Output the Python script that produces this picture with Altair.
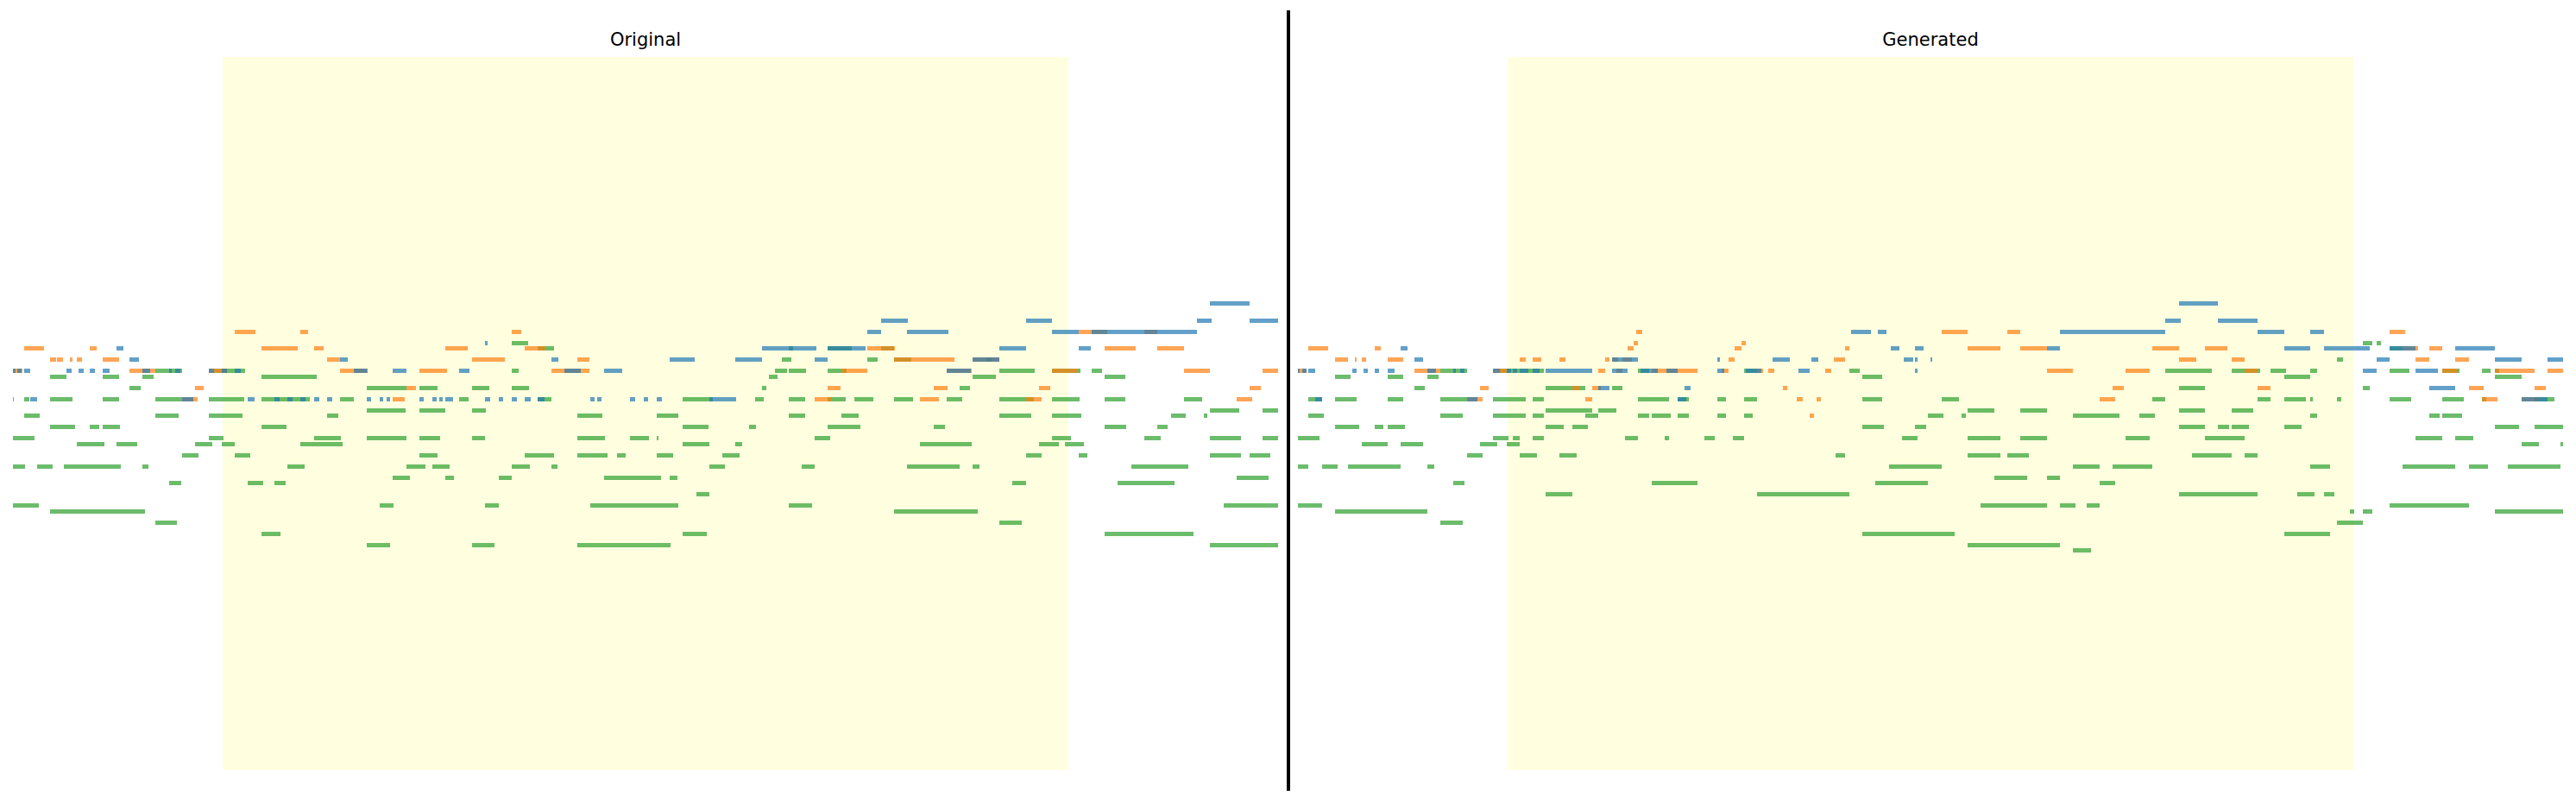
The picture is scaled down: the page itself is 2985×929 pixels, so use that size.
import altair as alt
import pandas as pd

# Note tables: pitch -> flat list of start, end pairs (time in ticks).
orig_blue = {
    83: [4161,4299],
    80: [3018,3111, 3522,3612, 4116,4167, 4299,4398],
    78: [2970,3018, 3108,3252, 3612,3705, 3750,4116],
    76: [1641,1650],
    75: [360,384, 2604,2793, 2832,2964, 3429,3522, 3705,3747],
    73: [405,438, 1137,1164, 1872,1896, 2283,2370, 2511,2604, 2787,2832, 3336,3429],
    71: [0,9, 15,30, 39,60, 186,204, 228,246, 267,285, 312,336, 450,477, 543,552, 564,582,
         681,699, 726,744, 771,792, 1185,1233, 1320,1368, 1551,1587, 1917,1974, 2055,2118, 3246,3330],
    66: [60,84, 588,627, 816,840, 909,927, 954,972, 999,1017, 1047,1065, 1092,1110, 1230,1245,
         1275,1287, 1299,1311, 1413,1428, 1458,1473, 1482,1494, 1503,1530, 1641,1659, 1689,1704,
         1734,1752, 1779,1800, 1824,1848, 2007,2022, 2031,2046, 2145,2163, 2193,2208, 2238,2256, 2421,2514],
}
orig_orange = {
    78: [771,843, 999,1026, 1734,1767, 3705,3804, 3933,3978],
    75: [39,108, 267,291, 864,990, 1047,1080, 1503,1581, 1779,1851, 2970,3066, 3795,3903, 3978,4071],
    73: [129,150, 153,174, 198,207, 222,240, 312,369, 1092,1137, 1596,1710, 1962,2004, 3063,3273, 3336,3429],
    71: [0,33, 405,495, 681,726, 726,744, 1137,1230, 1413,1509, 1872,2004, 2880,2970, 3246,3333, 3612,3699, 4071,4161, 4344,4398],
    68: [633,663, 1368,1401, 2832,2877, 3201,3249, 3567,3606, 4299,4338],
    66: [588,642, 1320,1362, 2787,2844, 3153,3219, 3522,3576, 4254,4308],
}
orig_green = {
    76: [1734,1791],
    75: [1824,1881, 2697,2712, 2832,2916, 3018,3063],
    73: [2673,2706, 2970,3006, 3063,3123, 3384,3402],
    71: [495,588, 699,807, 1734,1758, 2649,2691, 2697,2757, 2832,2898, 3429,3552, 3612,3711, 3750,3786],
    70: [129,186, 312,369, 450,489, 864,1056, 2628,2658, 3336,3417, 3795,3867],
    68: [405,444, 1230,1368, 1413,1476, 1596,1656, 1734,1794, 2604,2619, 3291,3327],
    66: [0,3, 39,57, 129,207, 312,369, 495,588, 681,804, 864,1032, 1137,1185, 1551,1584, 1824,1872,
         2328,2433, 2580,2610, 2697,2754, 2832,2895, 2925,2991, 3063,3129, 3246,3300, 3429,3549, 3612,3708, 3795,3867, 4071,4134],
    64: [1230,1365, 1413,1503, 1596,1644, 4161,4263, 4344,4398],
    63: [39,93, 495,576, 681,798, 1092,1131, 1962,2049, 2238,2313, 2697,2754, 2880,2940, 3429,3540, 3612,3714, 4026,4077, 4140,4152],
    61: [129,216, 267,300, 312,372, 864,951, 2328,2418, 2559,2583, 2832,2946, 3201,3240, 3795,3870, 3978,4014],
    59: [0,75, 681,732, 1047,1140, 1230,1368, 1413,1485, 1596,1641, 1962,2058, 2145,2211, 2238,2244, 2787,2841, 3612,3678, 3933,3990, 4161,4269, 4344,4398],
    58: [222,318, 360,432, 633,693, 726,771, 999,1146, 2328,2421, 2511,2535, 3153,3333, 3567,3636, 3657,3723],
    56: [588,645, 771,825, 1413,1476, 1779,1881, 1962,2067, 2100,2130, 2238,2295, 2466,2526, 3522,3576, 3705,3735, 4161,4269, 4299,4371],
    54: [0,42, 84,138, 177,375, 450,471, 954,1014, 1368,1434, 1458,1518, 1734,1797, 1872,1893, 2421,2475, 2742,2787, 3108,3291, 3336,3360, 3888,4086],
    52: [1320,1380, 1503,1533, 1689,1734, 2055,2253, 2283,2310, 4254,4365],
    51: [543,585, 816,870, 909,948, 3474,3522, 3840,4038],
    49: [2376,2421],
    47: [0,90, 1275,1323, 1641,1689, 2007,2313, 2697,2778, 4209,4398],
    46: [129,459, 3063,3354],
    44: [495,570, 3429,3507],
    42: [864,930, 2328,2412, 3795,4104],
    40: [1230,1311, 1596,1674, 1962,2286, 4161,4398],
}

gen_blue = {
    83: [3063,3198],
    80: [3015,3069, 3198,3336],
    78: [1923,1992, 2016,2046, 2649,3015, 3336,3429, 3519,3567],
    75: [357,381, 2061,2091, 2145,2175, 2604,2649, 3429,3519, 3567,3726, 3795,3885, 4023,4161],
    73: [405,435, 1092,1182, 1458,1467, 1650,1710, 1785,1809, 2106,2139, 2145,2154, 2199,2205, 3750,3795, 4161,4254, 4344,4398],
    71: [0,6, 15,30, 36,60, 189,204, 228,243, 267,282, 312,336, 450,480, 540,549, 564,579, 678,702,
         726,741, 747,762, 771,801, 816,840, 861,1023, 1092,1146, 1191,1251, 1281,1320, 1458,1482,
         1557,1611, 1740,1779, 2145,2154, 3702,3750, 3885,3963],
    68: [1044,1083, 1344,1365, 3933,4023],
    66: [60,84, 588,624, 1320,1350, 4254,4344],
}
gen_orange = {
    78: [1176,1197, 2238,2328, 2466,2511, 3795,3849],
    76: [1167,1182, 1542,1557],
    75: [36,105, 267,288, 1146,1167, 1518,1542, 1902,1917, 2328,2442, 2511,2604, 2970,3063, 3153,3231, 3840,3894, 3933,3978],
    73: [129,174, 198,204, 222,237, 312,366, 771,792, 816,846, 909,930, 1068,1083, 1092,1113, 1128,1161,
         1497,1518, 1863,1902, 3063,3123, 3246,3291, 3885,3933, 4023,4071],
    71: [0,30, 405,495, 678,726, 1044,1068, 1107,1128, 1230,1389, 1473,1497, 1596,1617, 1635,1656, 1833,1854,
         2604,2694, 2877,2961, 3291,3336, 3978,4032, 4161,4299, 4344,4398],
    68: [633,663, 954,978, 1023,1053, 1686,1701, 2832,2871, 3336,3381, 4071,4122, 4299,4338],
    66: [588,642, 999,1023, 1734,1755, 1803,1818, 2787,2841, 4116,4170, 4254,4314],
    63: [1779,1794],
}
gen_green = {
    76: [3702,3735, 3750,3765],
    75: [3795,3840],
    73: [3612,3633],
    71: [495,588, 702,855, 1182,1221, 1551,1596, 1917,1953, 3015,3177, 3246,3345, 3381,3435, 3519,3543, 3795,3864, 3978,4038, 4116,4146, 4161,4176],
    70: [129,183, 312,366, 450,489, 1962,2031, 3429,3519, 4161,4254],
    68: [405,441, 861,999, 1092,1128, 3063,3153, 3702,3726],
    66: [36,84, 129,204, 312,366, 495,588, 678,792, 816,855, 1182,1290, 1320,1359, 1458,1488, 1551,1596,
         1962,2031, 2238,2298, 2970,3015, 3336,3381, 3429,3504, 3519,3528, 3612,3627, 3795,3870, 3978,4053, 4116,4131, 4299,4368],
    64: [861,1023, 1044,1107, 2328,2421, 2511,2604, 3063,3153, 3246,3321],
    63: [36,90, 495,573, 678,792, 816,855, 999,1044, 1182,1221, 1230,1296, 1320,1359, 1458,1488, 1551,1581,
         2190,2244, 2307,2322, 2694,2856, 2925,2979, 3519,3543, 3933,3969, 3978,4047],
    61: [129,213, 267,297, 312,372, 861,924, 954,1008, 1962,2037, 2145,2184, 3063,3153, 3198,3237, 3246,3306, 3429,3489, 4161,4245, 4299,4398],
    59: [0,75, 678,732, 747,771, 816,855, 1137,1182, 1275,1290, 1413,1449, 1512,1551, 2100,2154, 2328,2442, 2511,2604, 2877,2961, 3153,3291, 3885,3978, 4023,4086],
    58: [222,312, 357,435, 633,693, 726,771, 4254,4314, 4389,4398],
    56: [588,642, 771,831, 909,969, 1869,1902, 2328,2442, 2466,2541, 3108,3246, 3291,3336],
    54: [0,36, 84,138, 174,357, 450,474, 2055,2238, 2694,2787, 2832,2970, 3519,3588, 3840,4023, 4071,4137, 4206,4389],
    52: [2421,2535, 2604,2649],
    51: [540,579, 1230,1389, 2007,2190, 2787,2841],
    49: [861,954, 1596,1917, 3063,3336, 3474,3534, 3567,3603],
    47: [0,84, 2373,2604, 2649,2703, 2742,2787, 3795,4071],
    46: [129,450, 3657,3672, 3702,3735, 4161,4398],
    44: [495,573, 3612,3702],
    42: [1962,2283, 3429,3588],
    40: [2328,2649],
    39: [2694,2757],
}

TITLES = ["Original", "Generated"]
TOTAL_TICKS = 4398
PANEL_GAP = 69          # ticks between the two panels
PANEL_SHIFT = TOTAL_TICKS + PANEL_GAP
DIVIDER_TICK = 4434
PITCH_MAX = 127
PITCH_LOW, PITCH_HIGH = -3.69, 135.3   # extent of the divider
TITLE_PITCH = 129
HIGHLIGHT = [729, 3669]
BLUE, ORANGE, GREEN = "#1f77b4", "#ff7f0e", "#2ca02c"
FULL_W, FULL_H = 2955, 904

x_scale = alt.Scale(domain=[0, TOTAL_TICKS + PANEL_SHIFT], round=True, nice=False, zero=False)
y_scale = alt.Scale(domain=[PITCH_LOW, PITCH_HIGH], round=True, nice=False, zero=False)


def frame(notes, shift):
    rows = []
    for pitch, flat in notes.items():
        for i in range(0, len(flat), 2):
            rows.append({"start": flat[i] + shift, "end": flat[i + 1] + shift,
                         "low": pitch - 0.3, "high": pitch + 0.47})
    return pd.DataFrame(rows)


def track(notes, color, shift):
    return alt.Chart(frame(notes, shift)).mark_rect(color=color, opacity=0.7, strokeWidth=0).encode(
        x=alt.X("start:Q", scale=x_scale, axis=None),
        x2="end:Q",
        y=alt.Y("low:Q", scale=y_scale, axis=None),
        y2="high:Q",
    )


def band(shift):
    return alt.Chart().mark_rect(color="#ffffe0", strokeWidth=0).encode(
        x=alt.X(datum=HIGHLIGHT[0] + shift, type="quantitative", scale=x_scale, axis=None),
        x2=alt.X2(datum=HIGHLIGHT[1] + shift),
        y=alt.Y(datum=0, type="quantitative", scale=y_scale, axis=None),
        y2=alt.Y2(datum=PITCH_MAX),
    )


def heading(text, shift):
    return alt.Chart().mark_text(
        text=text, font="DejaVu Sans", fontSize=21, color="black",
        align="center", baseline="alphabetic",
    ).encode(
        x=alt.X(datum=TOTAL_TICKS / 2 + shift, type="quantitative", scale=x_scale, axis=None),
        y=alt.Y(datum=TITLE_PITCH, type="quantitative", scale=y_scale, axis=None),
    )


divider = alt.Chart().mark_rule(color="black", strokeWidth=4).encode(
    x=alt.X(datum=DIVIDER_TICK, type="quantitative", scale=x_scale, axis=None),
    y=alt.Y(datum=PITCH_HIGH, type="quantitative", scale=y_scale, axis=None),
    y2=alt.Y2(datum=PITCH_LOW),
)

layers = [
    band(0), band(PANEL_SHIFT),
    track(orig_green, GREEN, 0), track(orig_orange, ORANGE, 0), track(orig_blue, BLUE, 0),
    track(gen_green, GREEN, PANEL_SHIFT), track(gen_orange, ORANGE, PANEL_SHIFT), track(gen_blue, BLUE, PANEL_SHIFT),
    heading(TITLES[0], 0), heading(TITLES[1], PANEL_SHIFT),
    divider,
]

chart = alt.layer(*layers).properties(
    width=FULL_W, height=FULL_H,
    padding={"left": 7, "top": 2, "right": 0, "bottom": 0},
    background="white",
).configure_view(strokeWidth=0)

chart.save("out.html", embed_options={"renderer": "svg", "actions": False})
